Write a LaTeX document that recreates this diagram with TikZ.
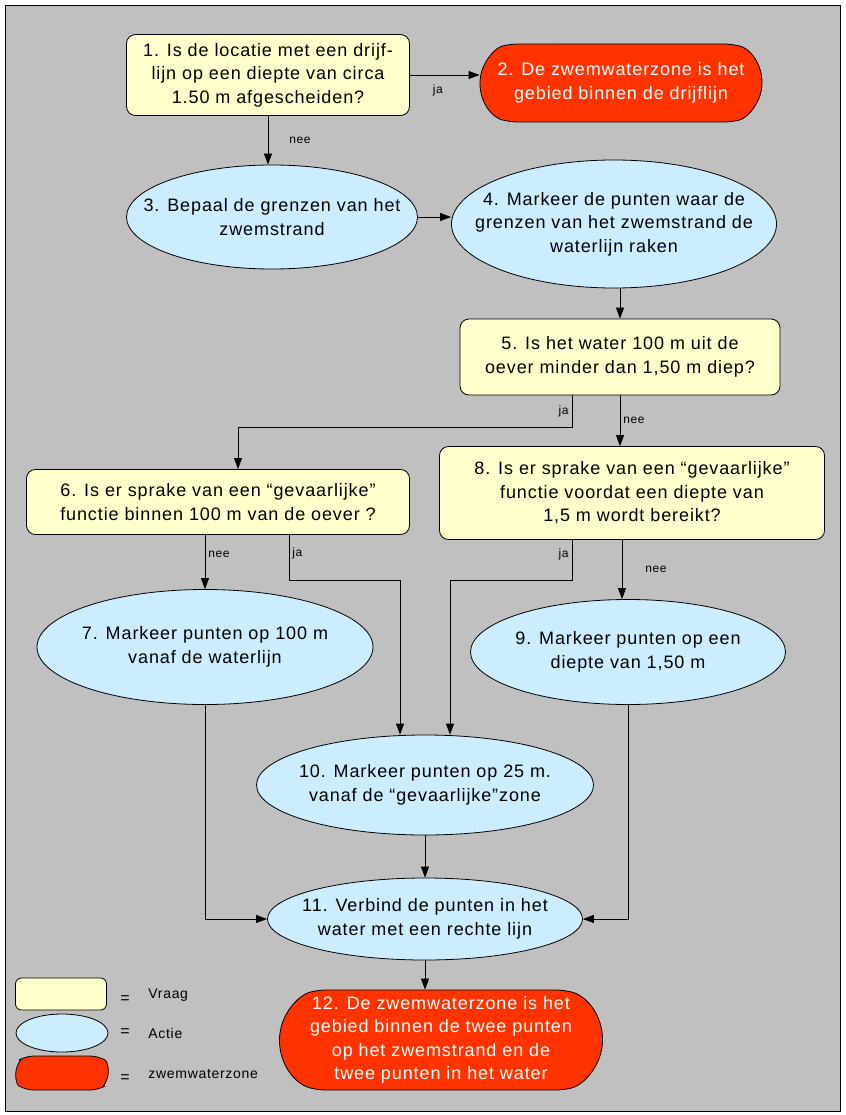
\documentclass[tikz,border=0pt]{standalone}
\usepackage{fontspec}
\setmainfont{Liberation Sans}[LetterSpace=5]
\usetikzlibrary{arrows.meta,positioning,calc,shapes.geometric,shapes.misc}
\definecolor{vraagkleur}{HTML}{FFFFCC}
\definecolor{actiekleur}{HTML}{CCECFF}
\definecolor{zonekleur}{HTML}{FF3300}
\definecolor{achtergrond}{HTML}{C0C0C0}
\newcommand{\stapfont}{\fontsize{18}{23.5}\selectfont}
\begin{document}
\begin{tikzpicture}[
  x=1pt, y=-1pt,
  line width=0.8pt,
  arr/.style={-{Triangle[length=11pt, width=8pt]}},
  vraag/.style={draw, rounded corners=9pt, fill=vraagkleur, align=center, inner sep=2pt, font=\stapfont},
  actie/.style={ellipse, draw, fill=actiekleur, align=center, inner xsep=-60pt, inner ysep=0pt, font=\stapfont},
  zone/.style={rounded rectangle, rounded rectangle arc length=150, rounded corners=8pt, draw, fill=zonekleur, text=white, align=center, inner sep=0pt, font=\stapfont},
  lbl/.style={font=\fontsize{12}{14}\selectfont, inner sep=3pt},
  leg/.style={font=\fontsize{14}{16}\selectfont, anchor=base west, inner sep=0pt}
]
  \useasboundingbox (0,0) rectangle (845,1115);
  % Background
  \draw[fill=achtergrond, line width=0.6pt] (5,5) rectangle (840,1111);
  % Steps
  \node[vraag, minimum width=283pt, minimum height=81pt] (q1) at (268,75) {1. Is de locatie met een drijf-\\lijn op een diepte van circa\\1.50 m afgescheiden?};
  \node[zone, minimum width=282pt, minimum height=78pt] (z2) at (621,83) {2. De zwemwaterzone is het\\gebied binnen de drijflijn};
  \node[actie, minimum width=291pt, minimum height=104pt] (a3) at (272,217) {3. Bepaal de grenzen van het\\zwemstrand};
  \node[actie, minimum width=325pt, minimum height=128pt] (a4) at (614,224) {4. Markeer de punten waar de\\grenzen van het zwemstrand de\\waterlijn raken};
  \node[vraag, minimum width=320pt, minimum height=76pt] (q5) at (620,357) {5. Is het water 100 m uit de\\oever minder dan 1,50 m diep?};
  \node[vraag, minimum width=383pt, minimum height=65pt] (q6) at (218,502) {6. Is er sprake van een “gevaarlijke”\\functie binnen 100 m van de oever ?};
  \node[vraag, minimum width=385pt, minimum height=93pt] (q8) at (632,493) {8. Is er sprake van een “gevaarlijke”\\functie voordat een diepte van\\1,5 m wordt bereikt?};
  \node[actie, minimum width=336pt, minimum height=115pt] (a7) at (205,647) {7. Markeer punten op 100 m\\vanaf de waterlijn};
  \node[actie, minimum width=315pt, minimum height=105pt] (a9) at (628,652) {9. Markeer punten op een\\diepte van 1,50 m};
  \node[actie, minimum width=337pt, minimum height=100pt] (a10) at (425,785) {10. Markeer punten op 25 m.\\vanaf de “gevaarlijke”zone};
  \node[actie, minimum width=315pt, minimum height=82pt] (a11) at (425,919) {11. Verbind de punten in het\\water met een rechte lijn};
  \node[zone, minimum width=323pt, minimum height=100pt] (z12) at (441,1040) {12. De zwemwaterzone is het\\gebied binnen de twee punten\\op het zwemstrand en de\\twee punten in het water};
  % Connectors
  \draw[arr] (q1.east) -- node[lbl, below, pos=0.4, yshift=-6pt] {ja} (q1.east -| z2.west);
  \draw[arr] (q1.south) -- node[lbl, right, xshift=18pt] {nee} (q1.south |- a3.north);
  \draw[arr] (a3.east) -- (a3.east -| a4.west);
  \draw[arr] (q5.north |- a4.south) -- (q5.north);
  \draw[arr] ([xshift=-48pt]q5.south) -- node[lbl, left] {ja} ++(0,32) -| ([xshift=20pt]q6.north);
  \draw[arr] (q5.south) -- node[lbl, right] {nee} (q5.south |- q8.north);
  \draw[arr] (a7.north |- q6.south) -- node[lbl, right, pos=0.35] {nee} (a7.north);
  \draw[arr] ([xshift=71pt]q6.south) -- node[lbl, right, pos=0.4] {ja} ++(0,45) -| ([xshift=-25pt]a10.north);
  \draw[arr] ([xshift=-60pt]q8.south) -- node[lbl, left, pos=0.35] {ja} ++(0,40) -| ([xshift=25pt]a10.north);
  \draw[arr] ([xshift=-10pt]q8.south) -- node[lbl, right, xshift=20pt] {nee} ([xshift=-10pt]q8.south |- a9.north);
  \draw[arr] (a7.south) |- (a11.west);
  \draw[arr] (a9.south) |- (a11.east);
  \draw[arr] (a10.south) -- (a11.north);
  \draw[arr] (a11.south) -- (a11.south |- z12.north);
  % Legend
  \node[vraag, minimum width=91pt, minimum height=32pt, rounded corners=6pt] (lv) at (61,994) {};
  \node[actie, minimum width=92pt, minimum height=38pt] (la) at (62,1033) {};
  \node[zone, minimum width=92pt, minimum height=34pt, rounded rectangle arc length=120] (lz) at (62,1073) {};
  \node[lbl, font=\fontsize{16}{18}\selectfont] (ev) at (125,1000) {=};
  \node[lbl, font=\fontsize{16}{18}\selectfont] (ea) at (125,1033) {=};
  \node[lbl, font=\fontsize{16}{18}\selectfont] (ez) at (125,1079) {=};
  \node[leg] (tv) at (148,998) {Vraag};
  \node[leg] (ta) at (148,1038) {Actie};
  \node[leg] (tz) at (148,1078) {zwemwaterzone};
\end{tikzpicture}
\end{document}
